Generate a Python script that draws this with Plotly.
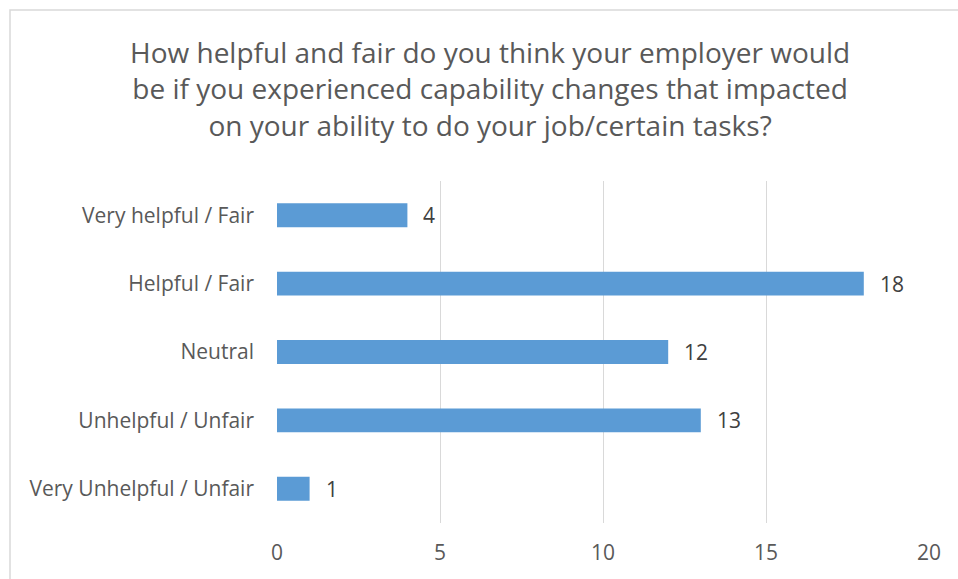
import plotly.graph_objects as go

# Survey responses
categories = [
    "Very helpful / Fair",
    "Helpful / Fair",
    "Neutral",
    "Unhelpful / Unfair",
    "Very Unhelpful / Unfair",
]
counts = [4, 18, 12, 13, 1]
x_ticks = [0, 5, 10, 15, 20]

title_text = (
    "How helpful and fair do you think your employer would<br>"
    "be if you experienced capability changes that impacted<br>"
    "on your ability to do your job/certain tasks?"
)

FONT = "Open Sans, Liberation Sans, sans-serif"
TEXT_GREY = "#595959"
BAR_BLUE = "#5B9BD5"

W, H = 958, 579
ML, MR, MT, MB = 277, 29, 181, 56
pw = W - ML - MR
ph = H - MT - MB


def px_x(x):
    return (x - ML) / pw


def px_y(y):
    return (H - MB - y) / ph


fig = go.Figure()
fig.add_trace(go.Bar(
    x=counts,
    y=categories,
    orientation="h",
    marker=dict(color=BAR_BLUE, line=dict(width=0)),
    hoverinfo="x+y",
))

# Value labels just past the end of each bar
for cat, val in zip(categories, counts):
    fig.add_annotation(
        x=val, y=cat, text=str(val), showarrow=False,
        xanchor="left", xshift=14,
        font=dict(family=FONT, size=21, color="#404040"),
    )

# Chart title
fig.add_annotation(
    x=px_x(490), y=px_y(89), xref="paper", yref="paper",
    text=title_text, showarrow=False,
    xanchor="center", yanchor="middle", align="center",
    font=dict(family=FONT, size=28, color=TEXT_GREY),
)

# Chart border
fig.add_shape(
    type="rect", xref="paper", yref="paper",
    x0=px_x(10), x1=px_x(975), y0=px_y(590), y1=px_y(10),
    line=dict(color="#D9D9D9", width=1.5), layer="below",
)

fig.update_layout(
    width=W, height=H,
    margin=dict(l=ML, r=MR, t=MT, b=MB),
    paper_bgcolor="white",
    plot_bgcolor="white",
    showlegend=False,
    bargap=0.65,
    font=dict(family=FONT, color=TEXT_GREY),
    xaxis=dict(
        range=[0, 20],
        tickvals=x_ticks,
        showgrid=True, gridcolor="#D9D9D9", gridwidth=1.3,
        zeroline=False, showline=False,
        tickfont=dict(family=FONT, size=21, color=TEXT_GREY),
        ticklabelstandoff=15,
        fixedrange=True,
    ),
    yaxis=dict(
        categoryorder="array", categoryarray=categories,
        autorange="reversed",
        showgrid=False, zeroline=False, showline=False,
        tickfont=dict(family=FONT, size=21, color=TEXT_GREY),
        ticklabelstandoff=22,
        fixedrange=True,
    ),
)

fig.write_html("out.html")
